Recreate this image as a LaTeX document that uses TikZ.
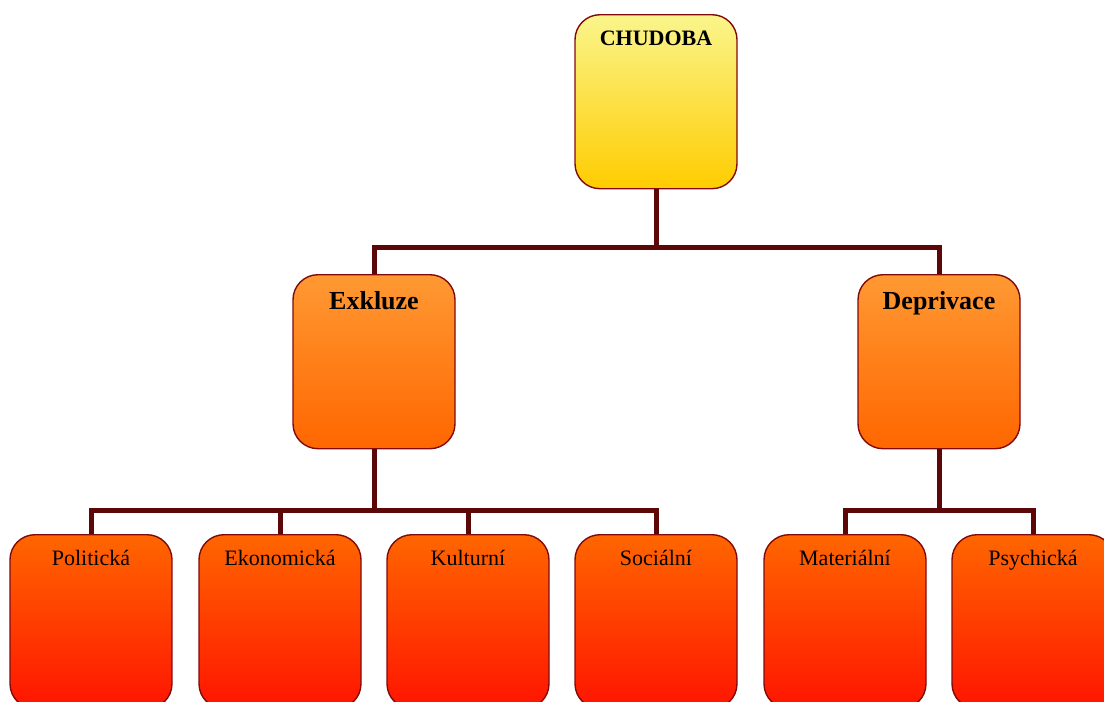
\documentclass[tikz,border=0pt]{standalone}
\usepackage{fontspec}
\setmainfont{Liberation Serif}
\definecolor{linkred}{RGB}{92,8,8}
\definecolor{edgered}{RGB}{130,10,10}
\definecolor{yellowtop}{RGB}{250,245,140}
\definecolor{yellowbot}{RGB}{255,204,0}
\definecolor{orangetop}{RGB}{255,153,51}
\definecolor{orangebot}{RGB}{255,102,0}
\definecolor{redbot}{RGB}{255,20,0}
\begin{document}
\begin{tikzpicture}[x=1pt, y=-1pt,
  box/.style={draw=edgered, line width=1.4pt, rounded corners=25pt, anchor=north,
    minimum width=162pt, inner sep=0pt, align=center},
  topbox/.style={box, top color=yellowtop, bottom color=yellowbot,
    text height=31pt, text depth=143pt, font=\fontsize{22}{26}\selectfont\bfseries},
  midbox/.style={box, top color=orangetop, bottom color=orangebot,
    text height=35pt, text depth=139pt, font=\fontsize{26}{30}\selectfont\bfseries},
  leafbox/.style={box, top color=orangebot, bottom color=redbot,
    text height=31pt, text depth=143pt, font=\fontsize{22}{26}\selectfont},
  link/.style={draw=linkred, line width=5pt}]
  \useasboundingbox (0,0) rectangle (1104,702);
  \node[topbox] (chudoba) at (656,14) {CHUDOBA};
  \node[midbox] (exkluze) at (374,274) {Exkluze};
  \node[midbox] (deprivace) at (939,274) {Deprivace};
  \node[leafbox] (politicka) at (91,534) {Politická};
  \node[leafbox] (ekonomicka) at (280,534) {Ekonomická};
  \node[leafbox] (kulturni) at (468,534) {Kulturní};
  \node[leafbox] (socialni) at (656,534) {Sociální};
  \node[leafbox] (materialni) at (845,534) {Materiální};
  \node[leafbox] (psychicka) at (1033,534) {Psychická};
  \draw[link] (chudoba.south) -- ++(0,58) -| (exkluze.north);
  \draw[link] (chudoba.south) -- ++(0,58) -| (deprivace.north);
  \draw[link] (exkluze.south) -- ++(0,61) -| (politicka.north);
  \draw[link] (exkluze.south) -- ++(0,61) -| (ekonomicka.north);
  \draw[link] (exkluze.south) -- ++(0,61) -| (kulturni.north);
  \draw[link] (exkluze.south) -- ++(0,61) -| (socialni.north);
  \draw[link] (deprivace.south) -- ++(0,61) -| (materialni.north);
  \draw[link] (deprivace.south) -- ++(0,61) -| (psychicka.north);
\end{tikzpicture}
\end{document}
